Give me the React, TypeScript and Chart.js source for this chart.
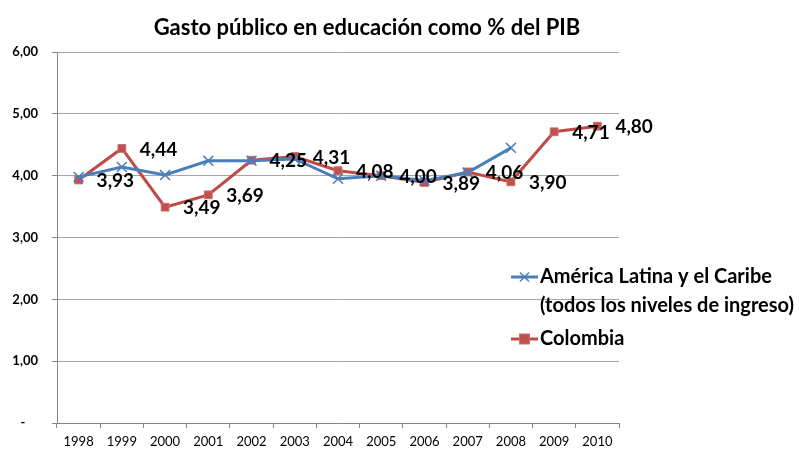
import React, { useEffect, useRef } from 'react';
import { Chart, registerables } from 'chart.js';

Chart.register(...registerables);

const chartTitle = 'Gasto público en educación como % del PIB';
const years = ['1998', '1999', '2000', '2001', '2002', '2003', '2004', '2005', '2006', '2007', '2008', '2009', '2010'];
const latamValues: (number | null)[] = [3.98, 4.14, 4.01, 4.24, 4.24, 4.27, 3.95, 4.0, 3.92, 4.05, 4.45, null, null];
const colombiaValues: number[] = [3.93, 4.44, 3.49, 3.69, 4.25, 4.31, 4.08, 4.0, 3.89, 4.06, 3.9, 4.71, 4.8];
const latamName = ['América Latina y el Caribe', '(todos los niveles de ingreso)'];
const colombiaName = ['Colombia'];
const yMin = 0;
const yMax = 6;
const yStep = 1;

const FONT = 'Lato, "Open Sans", sans-serif';
const BLUE = '#4A7EBB';
const RED = '#BE4B48';
const RED_FILL = '#C0504D';

const fmt = (v: number) => v.toFixed(2).replace('.', ',');

const titlePlugin = {
  id: 'customTitle',
  afterDraw(chart: any) {
    const ctx = chart.ctx;
    ctx.save();
    ctx.font = `bold 22px ${FONT}`;
    ctx.fillStyle = '#000';
    ctx.textAlign = 'center';
    ctx.textBaseline = 'middle';
    ctx.fillText(chartTitle, 367, 28);
    ctx.restore();
  },
};

const labelPlugin = {
  id: 'pointLabels',
  afterDatasetsDraw(chart: any) {
    const ctx = chart.ctx;
    const meta = chart.getDatasetMeta(1);
    ctx.save();
    ctx.font = `bold 19px ${FONT}`;
    ctx.fillStyle = '#000';
    ctx.textAlign = 'left';
    ctx.textBaseline = 'middle';
    meta.data.forEach((pt: any, i: number) => {
      const v = colombiaValues[i];
      if (v == null) return;
      ctx.fillText(fmt(v), pt.x + 18, pt.y + 1);
    });
    ctx.restore();
  },
};

const legendPlugin = {
  id: 'customLegend',
  afterDraw(chart: any) {
    const ctx = chart.ctx;
    const x0 = chart.chartArea.right - 108;
    const entries = [
      { names: latamName, y: 277, ds: chart.data.datasets[0] },
      { names: colombiaName, y: 339, ds: chart.data.datasets[1] },
    ];
    ctx.save();
    entries.forEach((e) => {
      const ds = e.ds;
      ctx.strokeStyle = ds.borderColor;
      ctx.lineWidth = ds.borderWidth;
      ctx.beginPath();
      ctx.moveTo(x0, e.y);
      ctx.lineTo(x0 + 27, e.y);
      ctx.stroke();
      const cx = x0 + 13.5;
      if (ds.pointStyle === 'rect') {
        ctx.fillStyle = ds.pointBackgroundColor;
        ctx.strokeStyle = ds.pointBorderColor;
        ctx.lineWidth = 1;
        ctx.fillRect(cx - 5, e.y - 5, 10, 10);
        ctx.strokeRect(cx - 5, e.y - 5, 10, 10);
      } else {
        ctx.strokeStyle = ds.pointBorderColor;
        ctx.lineWidth = 1.5;
        ctx.beginPath();
        ctx.moveTo(cx - 4.5, e.y - 4.5);
        ctx.lineTo(cx + 4.5, e.y + 4.5);
        ctx.moveTo(cx + 4.5, e.y - 4.5);
        ctx.lineTo(cx - 4.5, e.y + 4.5);
        ctx.stroke();
      }
      ctx.font = `bold 20px ${FONT}`;
      ctx.fillStyle = '#000';
      ctx.textAlign = 'left';
      ctx.textBaseline = 'middle';
      e.names.forEach((n, k) => {
        ctx.fillText(n, x0 + 29, e.y + k * 29);
      });
    });
    ctx.restore();
  },
};

export default function App() {
  const ref = useRef<HTMLCanvasElement>(null);

  useEffect(() => {
    document.body.style.margin = '0';
    const canvas = ref.current;
    if (!canvas) return;
    const chart = new Chart(canvas, {
      type: 'line',
      data: {
        labels: years,
        datasets: [
          {
            label: latamName.join(' '),
            data: latamValues,
            borderColor: BLUE,
            backgroundColor: BLUE,
            borderWidth: 3,
            pointStyle: 'crossRot',
            pointRadius: 7,
            pointBorderColor: BLUE,
            pointBackgroundColor: BLUE,
            pointBorderWidth: 1.5,
            tension: 0,
            spanGaps: false,
          },
          {
            label: colombiaName.join(' '),
            data: colombiaValues,
            borderColor: RED,
            backgroundColor: RED_FILL,
            borderWidth: 3,
            pointStyle: 'rect',
            pointRadius: 5.5,
            pointBorderColor: '#C8706D',
            pointBackgroundColor: RED_FILL,
            pointBorderWidth: 1,
            tension: 0,
          },
        ],
      },
      options: {
        responsive: false,
        animation: false,
        layout: { padding: { left: 0, top: 52, right: 180, bottom: 0 } },
        plugins: {
          legend: { display: false },
          title: { display: false },
          tooltip: { enabled: false },
        },
        scales: {
          x: {
            type: 'category',
            offset: true,
            grid: {
              offset: true,
              drawOnChartArea: false,
              drawTicks: true,
              tickLength: 5,
              color: '#868686',
            },
            border: { color: '#868686', width: 1 },
            ticks: {
              color: '#000',
              font: { family: FONT, size: 13 },
              padding: 6,
              maxRotation: 0,
              autoSkip: false,
            },
            afterFit: (s: any) => {
              s.height = 28;
            },
          },
          y: {
            min: yMin,
            max: yMax,
            grid: {
              color: '#A6A6A6',
              tickLength: 5,
              tickColor: '#868686',
            },
            border: { color: '#868686', width: 1 },
            ticks: {
              stepSize: yStep,
              color: '#000',
              font: { family: FONT, size: 13, weight: 'bold' },
              padding: 14,
              callback: (v: any) => (Number(v) === 0 ? '-    ' : fmt(Number(v))),
            },
            afterFit: (s: any) => {
              s.width = 57;
            },
          },
        },
      },
      plugins: [titlePlugin, labelPlugin, legendPlugin],
    } as any);
    return () => chart.destroy();
  }, []);

  return (
    <div style={{ width: 799, height: 451 }}>
      <canvas ref={ref} width={799} height={451} style={{ display: 'block' }} />
    </div>
  );
}
